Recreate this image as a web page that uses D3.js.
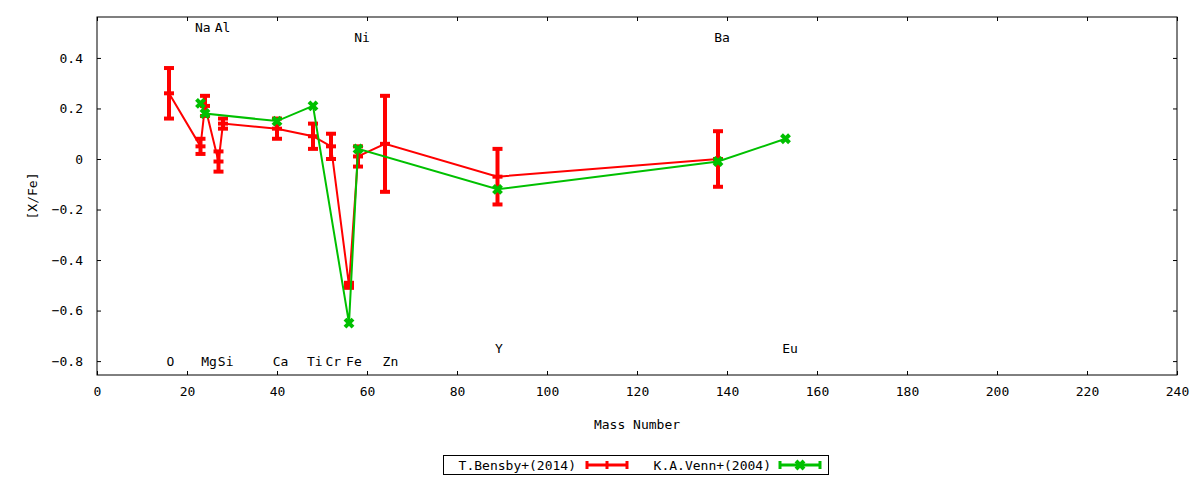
<!DOCTYPE html>
<html>
<head>
<meta charset="utf-8">
<script src="https://cdn.jsdelivr.net/npm/d3@7"></script>
<style>
  body { margin: 0; background: #fff; }
  svg text { font-family: "DejaVu Sans Mono", monospace; font-size: 13px; fill: #000; }
</style>
</head>
<body>
<svg width="1200" height="480"></svg>
<script>
// T.Bensby+(2014)
const bensbyMass = [16, 23, 24, 27, 28, 40, 48, 52, 56, 58, 64, 89, 138];
const bensbyVal  = [0.26, 0.05, 0.21, -0.01, 0.14, 0.12, 0.09, 0.05, -0.50, 0.01, 0.06, -0.07, 0.00];
const bensbyErr  = [0.10, 0.03, 0.04, 0.04, 0.02, 0.04, 0.05, 0.05, 0.01, 0.04, 0.19, 0.11, 0.11];

// K.A.Venn+(2004)
const vennMass = [23, 24, 40, 48, 56, 58, 89, 138, 153];
const vennVal  = [0.22, 0.18, 0.15, 0.21, -0.65, 0.04, -0.12, -0.01, 0.08];

// element labels (x in mass number, y in [X/Fe])
const elemNames = ["O", "Na", "Al", "Mg", "Si", "Ca", "Ti", "Cr", "Fe", "Ni", "Zn", "Y", "Ba", "Eu"];
const elemX     = [16.3, 23.5, 27.9, 24.9, 28.6, 40.8, 48.4, 52.5, 57.1, 58.9, 65.2, 89.3, 138.9, 154];
const elemY     = [-0.8, 0.52, 0.52, -0.8, -0.8, -0.8, -0.8, -0.8, -0.8, 0.48, -0.8, -0.75, 0.48, -0.75];

const xTicks = d3.range(0, 241, 20);
const yTicks = [-0.8, -0.6, -0.4, -0.2, 0, 0.2, 0.4];

const svg = d3.select("svg");
const pL = 97, pR = 1177, pT = 17, pB = 375;
const red = "#ff0000", green = "#00c000";

const x = d3.scaleLinear().domain([0, 240]).range([pL, pR]);
const y = d3.scaleLinear().domain([-0.855, 0.562]).range([pB, pT]);

const fmtY = d => d === 0 ? "0" : d3.format(".1f")(d);

// ticks (inward, mirrored)
const g = svg.append("g");
g.append("g").attr("transform", `translate(0,${pB})`)
  .call(d3.axisBottom(x).tickValues(xTicks).tickSizeInner(-4).tickSizeOuter(0).tickPadding(12))
  .call(a => a.select(".domain").remove());
g.append("g").attr("transform", `translate(0,${pT})`)
  .call(d3.axisTop(x).tickValues(xTicks).tickSizeInner(-4).tickSizeOuter(0).tickFormat(""))
  .call(a => a.select(".domain").remove());
g.append("g").attr("transform", `translate(${pL},0)`)
  .call(d3.axisLeft(y).tickValues(yTicks).tickSizeInner(-4).tickSizeOuter(0).tickPadding(14).tickFormat(fmtY))
  .call(a => a.select(".domain").remove());
g.append("g").attr("transform", `translate(${pR},0)`)
  .call(d3.axisRight(y).tickValues(yTicks).tickSizeInner(-4).tickSizeOuter(0).tickFormat(""))
  .call(a => a.select(".domain").remove());
svg.selectAll(".tick line").attr("stroke", "#000");
svg.selectAll(".tick text").style("font-family", "DejaVu Sans Mono").style("font-size", "13px");

svg.append("rect")
  .attr("x", pL).attr("y", pT).attr("width", pR - pL).attr("height", pB - pT)
  .attr("fill", "none").attr("stroke", "#000").attr("stroke-width", 1);

// axis titles
svg.append("text").attr("x", (pL + pR) / 2).attr("y", 429)
  .attr("text-anchor", "middle").text("Mass Number");
svg.append("text").attr("transform", `translate(37,${(pT + pB) / 2}) rotate(-90)`)
  .attr("text-anchor", "middle").text("[X/Fe]");

// element labels
svg.append("g").selectAll("text").data(elemNames).join("text")
  .attr("x", (d, i) => x(elemX[i]))
  .attr("y", (d, i) => y(elemY[i]))
  .attr("dy", "0.35em")
  .attr("text-anchor", "middle")
  .text(d => d);

// Bensby series
const bensby = bensbyMass.map((m, i) => ({ m, v: bensbyVal[i], e: bensbyErr[i] }));
const venn = vennMass.map((m, i) => ({ m, v: vennVal[i] }));
const line = d3.line().x(d => x(d.m)).y(d => y(d.v));

svg.append("path").datum(bensby).attr("d", line)
  .attr("fill", "none").attr("stroke", red).attr("stroke-width", 2);

const eb = svg.append("g").attr("stroke", red).attr("stroke-width", 4);
bensby.forEach(d => {
  const cx = x(d.m);
  eb.append("line").attr("x1", cx).attr("x2", cx).attr("y1", y(d.v + d.e)).attr("y2", y(d.v - d.e));
  [d.v + d.e, d.v - d.e, d.v].forEach(v => {
    eb.append("line").attr("x1", cx - 5).attr("x2", cx + 5).attr("y1", y(v)).attr("y2", y(v));
  });
});

// Venn series
svg.append("path").datum(venn).attr("d", line)
  .attr("fill", "none").attr("stroke", green).attr("stroke-width", 2);

function cross(sel, cx, cy) {
  sel.append("path")
    .attr("d", `M${cx - 4},${cy - 4}L${cx + 4},${cy + 4}M${cx - 4},${cy + 4}L${cx + 4},${cy - 4}`)
    .attr("stroke", green).attr("stroke-width", 4).attr("fill", "none");
}
const vm = svg.append("g");
venn.forEach(d => cross(vm, x(d.m), y(d.v)));

// legend
const lg = svg.append("g");
lg.append("rect").attr("x", 443.5).attr("y", 455.5).attr("width", 385).attr("height", 19)
  .attr("fill", "none").attr("stroke", "#000").attr("stroke-width", 1);
const ly = 465;
lg.append("text").attr("x", 576).attr("y", ly).attr("dy", "0.35em").attr("text-anchor", "end").text("T.Bensby+(2014)");
lg.append("line").attr("x1", 586).attr("x2", 628).attr("y1", ly).attr("y2", ly).attr("stroke", red).attr("stroke-width", 3);
[587, 607, 627].forEach(px => lg.append("line").attr("x1", px).attr("x2", px)
  .attr("y1", ly - 4).attr("y2", ly + 4).attr("stroke", red).attr("stroke-width", 3));
lg.append("text").attr("x", 771).attr("y", ly).attr("dy", "0.35em").attr("text-anchor", "end").text("K.A.Venn+(2004)");
lg.append("line").attr("x1", 779).attr("x2", 821).attr("y1", ly).attr("y2", ly).attr("stroke", green).attr("stroke-width", 3);
[780, 820].forEach(px => lg.append("line").attr("x1", px).attr("x2", px)
  .attr("y1", ly - 4).attr("y2", ly + 4).attr("stroke", green).attr("stroke-width", 3));
cross(lg, 800, ly);
</script>
</body>
</html>
